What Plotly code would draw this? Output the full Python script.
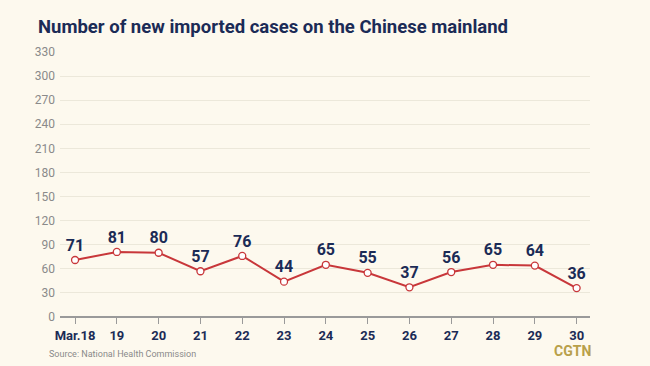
import plotly.graph_objects as go

dates = ["Mar.18", "19", "20", "21", "22", "23", "24", "25", "26", "27", "28", "29", "30"]
cases = [71, 81, 80, 57, 76, 44, 65, 55, 37, 56, 65, 64, 36]
y_ticks = list(range(0, 331, 30))

navy = "#1B2B56"
red = "#C8373A"
bg = "#FDF9EE"

W, H = 650, 366
ML, MR, MT, MB = 60, 60, 52, 49
PW, PH = W - ML - MR, H - MT - MB


def px_x(x):
    return (x - ML) / PW


def px_y(y):
    return (H - MB - y) / PH


fig = go.Figure()
fig.add_trace(go.Scatter(
    x=list(range(len(dates))), y=cases,
    mode="lines+markers+text",
    line=dict(color=red, width=2),
    marker=dict(size=7, color="white", line=dict(color=red, width=1.3)),
    text=[str(v) for v in cases],
    textposition="top center",
    textfont=dict(family="Roboto", size=16, color=navy, weight="bold"),
    cliponaxis=False,
    hoverinfo="skip",
))

fig.update_layout(
    width=W, height=H,
    paper_bgcolor=bg, plot_bgcolor=bg,
    margin=dict(l=ML, r=MR, t=MT, b=MB),
    showlegend=False,
    title=dict(text="<b>Number of new imported cases on the Chinese mainland</b>",
               x=38/W, xanchor="left", y=1-27/H, yanchor="middle",
               font=dict(family="Roboto", size=18.5, color=navy)),
    xaxis=dict(
        range=[-0.36, 12.32],
        tickmode="array", tickvals=list(range(len(dates))), ticktext=dates,
        showgrid=False, zeroline=False,
        showline=False,
        ticks="outside", ticklen=6, tickcolor="#9A9A9A", tickwidth=1,
        tickfont=dict(family="Roboto", size=13, color=navy, weight="bold"),
    ),
    yaxis=dict(
        range=[0, 330],
        tickmode="array", tickvals=y_ticks,
        showgrid=True, gridcolor="#ECE8DA", gridwidth=1,
        zeroline=True, zerolinecolor="#9A9A9A", zerolinewidth=1.5,
        ticks="", ticklabelstandoff=4,
        tickfont=dict(family="Roboto", size=12, color="#8A8A8A"),
    ),
    annotations=[
        dict(text="Source: National Health Commission", x=px_x(47), y=px_y(354),
             xref="paper", yref="paper", xanchor="left", yanchor="middle", showarrow=False,
             font=dict(family="Roboto", size=9, color="#8A8A8A")),
        dict(text="<b>CGTN</b>", x=px_x(593), y=px_y(351),
             xref="paper", yref="paper", xanchor="right", yanchor="middle", showarrow=False,
             font=dict(family="Roboto", size=14, color="#B8A04A")),
    ],
)

fig.write_html("out.html", config={"displayModeBar": False},
               post_script="document.body.style.margin='0';")
